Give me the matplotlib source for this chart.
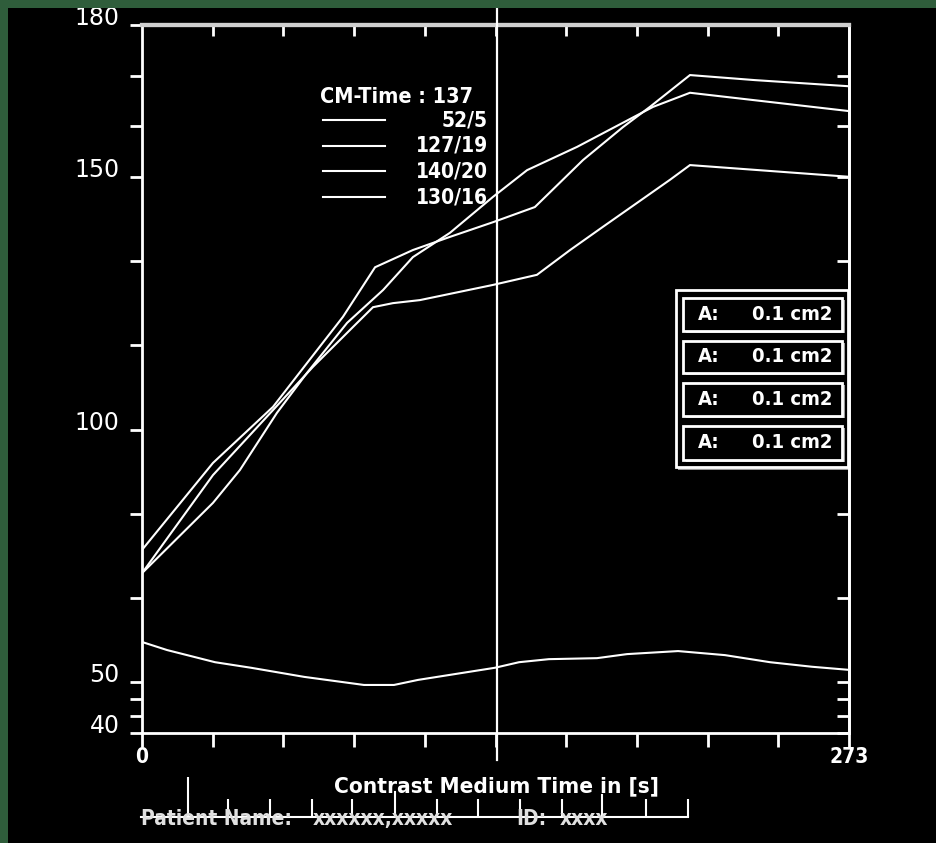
import matplotlib
matplotlib.use("Agg")
import matplotlib.pyplot as plt
from matplotlib.patches import Rectangle

# ---------------- data ----------------
# curve "52/5" (lowest curve)
t_s = [0, 9.7, 28.2, 42.1, 62.6, 85.7, 97.3, 106.6, 136.3, 145.6, 157.1, 175.7, 187.3, 207.0, 225.1, 242.5, 258.7, 272.6]
v_s = [58.0, 56.4, 54.0, 52.9, 51.1, 49.5, 49.5, 50.5, 52.9, 54.0, 54.6, 54.8, 55.6, 56.2, 55.4, 54.0, 53.1, 52.5]

# curve with the kink at ~90 s and lowest plateau (ends ~150)
t_r = [0, 27.4, 66.0, 76.4, 81.5, 89.2, 96.9, 107.3, 135.5, 152.5, 165.3, 178.0, 191.1, 203.9, 211.6, 272.6]
v_r = [71.6, 91.0, 112.4, 117.7, 120.3, 124.2, 125.0, 125.6, 128.6, 130.6, 135.5, 140.1, 144.8, 149.4, 152.3, 150.0]

# curve with the highest peak (ends ~168)
t_q = [0, 27.4, 50.6, 77.6, 90.0, 104.6, 118.9, 135.5, 151.7, 170.3, 185.7, 196.1, 211.6, 236.7, 272.6]
v_q = [76.2, 93.4, 104.5, 122.3, 132.1, 135.5, 138.1, 141.0, 144.0, 153.3, 159.8, 163.8, 170.1, 169.1, 167.9]

# smooth curve (ends ~163)
t_p = [0, 27.4, 37.8, 52.1, 63.7, 79.2, 93.1, 104.6, 118.9, 135.5, 148.7, 168.0, 197.3, 211.6, 272.6]
v_p = [71.6, 85.5, 92.0, 103.3, 111.2, 121.1, 127.6, 134.1, 138.9, 146.0, 151.3, 155.9, 163.8, 166.6, 163.0]

legend_title = "CM-Time : 137"
legend_labels = ["52/5", "127/19", "140/20", "130/16"]
cm_time = 137
x_max = 273
y_min, y_max = 40, 180
y_major = [40, 50, 100, 150, 180]
y_minor = [43.33, 46.67, 66.67, 83.33, 116.67, 133.33, 160, 170]
x_ticks = [i * 27.3 for i in range(11)]
x_ticklabels = ["0"] + [""] * 9 + ["273"]
area_labels = ["A:", "A:", "A:", "A:"]
area_values = ["0.1 cm2", "0.1 cm2", "0.1 cm2", "0.1 cm2"]
x_label = "Contrast Medium Time in [s]"
patient_parts = ["Patient Name:", "xxxxxx,xxxxx", "ID:", "xxxx"]
patient_part_x = [141, 313, 516, 560]
ruler_major = [188, 395, 602]
ruler_major_len = [39, 25, 22]
ruler_minor = [228, 270, 312, 352, 437, 478, 520, 562, 646, 688]

# ---------------- styling ----------------
FIG_W, FIG_H = 936, 843
BOLD = dict(family=["Liberation Sans Narrow", "DejaVu Sans"], fontweight="bold", fontstretch="condensed")
WHITE = "white"

fig = plt.figure(figsize=(FIG_W / 100, FIG_H / 100), dpi=100, facecolor="black")
green = "#2f5d3b"
fig.patches.append(Rectangle((0, 1 - 8 / FIG_H), 1, 8 / FIG_H, transform=fig.transFigure,
                             facecolor=green, edgecolor="none", zorder=0))
fig.patches.append(Rectangle((0, 0), 8 / FIG_W, 1, transform=fig.transFigure,
                             facecolor=green, edgecolor="none", zorder=0))

L, R, T, B = 142, 849, 25, 733
ax = fig.add_axes([L / FIG_W, (FIG_H - B) / FIG_H, (R - L) / FIG_W, (B - T) / FIG_H])
ax.set_facecolor("black")
ax.set_xlim(0, x_max)
ax.set_ylim(y_min, y_max)

for sp in ["left", "right", "bottom"]:
    ax.spines[sp].set_color(WHITE)
    ax.spines[sp].set_linewidth(2)
ax.spines["top"].set_color("#cfcfcf")
ax.spines["top"].set_linewidth(3)

# left / bottom ticks (outward)
ax.set_yticks(y_major)
ax.set_yticks(y_minor, minor=True)
ax.set_yticklabels([str(v) for v in y_major])
ax.set_xticks(x_ticks)
ax.set_xticklabels(x_ticklabels)
ax.tick_params(axis="y", which="both", direction="out", length=9, width=2, color=WHITE,
               labelcolor=WHITE, labelsize=17, pad=7, right=False)
ax.tick_params(axis="x", which="both", direction="out", length=10, width=2, color=WHITE,
               labelcolor=WHITE, pad=0, top=False)
for lab in ax.get_yticklabels():
    lab.set_verticalalignment("baseline")
    lab.set_family("DejaVu Sans")
for lab in ax.get_xticklabels():
    lab.set_fontsize(15)
    lab.set_fontweight("bold")
    lab.set_family(BOLD["family"])
    lab.set_fontstretch("condensed")

# right / top ticks (inward)
secy = ax.secondary_yaxis("right")
secy.set_yticks(y_major + y_minor)
secy.tick_params(direction="in", length=9, width=2, color=WHITE, labelright=False)
secy.spines["right"].set_color(WHITE)
secy.spines["right"].set_linewidth(2)
secx = ax.secondary_xaxis("top")
secx.set_xticks(x_ticks[1:-1])
secx.tick_params(direction="in", length=8, width=2, color=WHITE, labeltop=False)
secx.spines["top"].set_color("#cfcfcf")
secx.spines["top"].set_linewidth(3)

# curves
for t, v in [(t_s, v_s), (t_r, v_r), (t_q, v_q), (t_p, v_p)]:
    ax.plot(t, v, color=WHITE, lw=1.5, solid_joinstyle="miter", zorder=3)

# CM-time marker line
ax.axvline(cm_time, ymin=-27 / 708, ymax=1 + 17 / 708, color=WHITE, lw=1.6, clip_on=False, zorder=4)

# legend (manual, axes fraction)
def fx(px):
    return (px - L) / (R - L)

def fy(py):
    return (B - py) / (B - T)

ax.text(fx(320), fy(97), legend_title, transform=ax.transAxes, color=WHITE, fontsize=15.5,
        ha="left", va="center", **BOLD)
for i, lab in enumerate(legend_labels):
    yy = fy(120 + i * 25.7)
    ax.plot([fx(323), fx(385)], [yy, yy], transform=ax.transAxes, color=WHITE, lw=1.5)
    ax.text(fx(488), yy, lab, transform=ax.transAxes, color=WHITE, fontsize=15,
            ha="right", va="center", **BOLD)

# area boxes
ax.add_patch(Rectangle((fx(678), fy(470)), fx(848) - fx(678), fy(290) - fy(470),
                       transform=ax.transAxes, facecolor="#9a9a9a", edgecolor="none", zorder=5))
ax.add_patch(Rectangle((fx(676), fy(467)), fx(848) - fx(676), fy(290) - fy(467),
                       transform=ax.transAxes, facecolor="black", edgecolor=WHITE, lw=2, zorder=5))
box_rows = [(298, 331), (341, 373), (383, 416), (426, 460)]
for (top, bot), a, val in zip(box_rows, area_labels, area_values):
    ax.add_patch(Rectangle((fx(686), fy(bot + 2)), fx(845) - fx(686), fy(top + 2) - fy(bot + 2),
                           transform=ax.transAxes, facecolor="#9a9a9a", edgecolor="none", zorder=6))
    ax.add_patch(Rectangle((fx(683), fy(bot)), fx(842) - fx(683), fy(top) - fy(bot),
                           transform=ax.transAxes, facecolor="black", edgecolor=WHITE, lw=2, zorder=6))
    yc = fy((top + bot) / 2)
    ax.text(fx(698), yc, a, transform=ax.transAxes, color=WHITE, fontsize=14.5,
            ha="left", va="center", zorder=7, **BOLD)
    ax.text(fx(832), yc, val, transform=ax.transAxes, color=WHITE, fontsize=14.5,
            ha="right", va="center", zorder=7, **BOLD)

# x label
ax.text(fx(497), fy(786), x_label, transform=ax.transAxes, color=WHITE, fontsize=16.2,
        ha="center", va="center", **BOLD)

# patient line + ruler
for part, px in zip(patient_parts, patient_part_x):
    fig.text(px / FIG_W, (FIG_H - 825) / FIG_H, part, color="#e0e0e0", fontsize=15,
             ha="left", va="baseline", **BOLD)
rax = fig.add_axes([141 / FIG_W, (FIG_H - 817) / FIG_H, 547 / FIG_W, 40 / FIG_H])
rax.set_facecolor("none")
rax.set_xlim(141, 688)
rax.set_ylim(0, 1)
for sp in ["left", "right", "top"]:
    rax.spines[sp].set_visible(False)
rax.spines["bottom"].set_color(WHITE)
rax.spines["bottom"].set_linewidth(1.5)
rax.set_xticks(ruler_minor, minor=True)
rax.set_xticks([])
rax.tick_params(axis="x", which="minor", direction="in", length=13, width=1.5, color=WHITE)
rax.set_yticks([])
for xm, ln in zip(ruler_major, ruler_major_len):
    rax.axvline(xm, ymin=0, ymax=ln / 40, color=WHITE, lw=1.5)

fig.savefig("out.png", dpi=100, facecolor=fig.get_facecolor())
